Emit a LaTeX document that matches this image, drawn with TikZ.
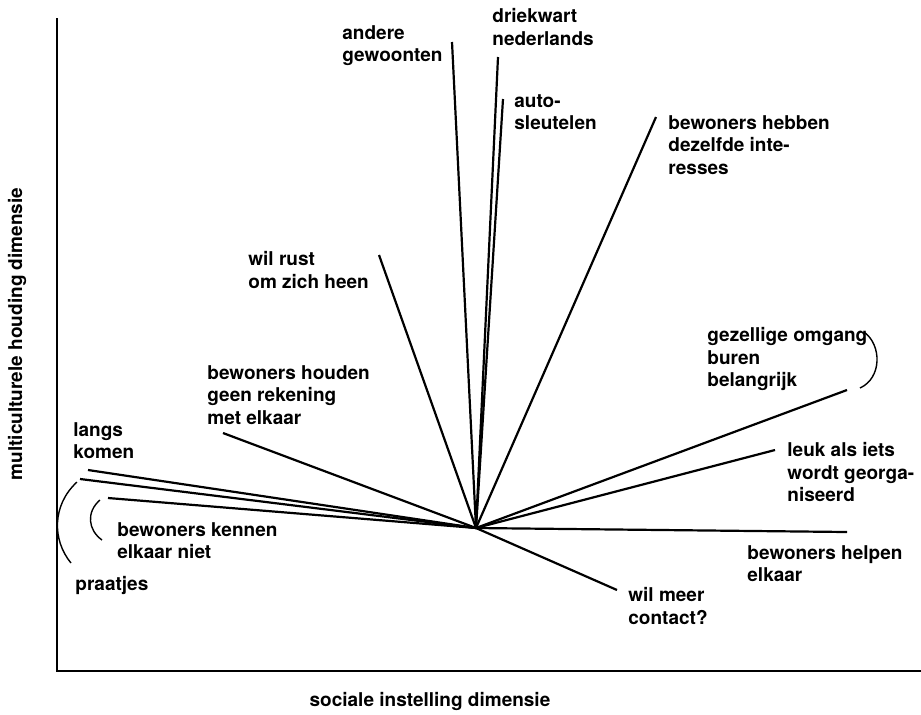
\documentclass[tikz,border=0pt]{standalone}
\usepackage{fontspec}
\setmainfont{TeX Gyre Heros}
\usetikzlibrary{positioning}
\newcommand{\lblfont}{\fontsize{9.5}{11.3}\selectfont\bfseries}

\begin{document}
\begin{tikzpicture}[x=0.5pt, y=-0.5pt,
	axis/.style={line width=1.3pt},
	ray/.style={line width=1.1pt},
	brace/.style={line width=0.7pt},
	lbl/.style={font=\lblfont, align=left, inner sep=0pt, anchor=north west}]
			%%%%% START %%%%%
			\useasboundingbox (0, 0) rectangle (921, 714);
			
			% assen
			\draw[axis] (57, 18) -- (57, 671) -- (921, 671);
			\node[font=\lblfont, inner sep=0pt] (xlabel) at (430, 701) {sociale instelling dimensie};
			\node[font=\lblfont, inner sep=0pt, rotate=90] (ylabel) at (17, 334) {multiculturele houding dimensie};
			
			% oorsprong en eindpunten
			\coordinate (c) at (476, 528);
			\coordinate (langs) at (88, 470);
			\coordinate (praat) at (80, 479);
			\coordinate (kennen) at (108, 498);
			\coordinate (houden) at (223, 433);
			\coordinate (rust) at (379, 255);
			\coordinate (andere) at (452, 42);
			\coordinate (driekwart) at (498, 57);
			\coordinate (auto) at (503, 99);
			\coordinate (hebben) at (656, 117);
			\coordinate (gezellig) at (847, 390);
			\coordinate (leuk) at (775, 450);
			\coordinate (helpen) at (847, 532);
			\coordinate (meer) at (617, 590);
			
			\foreach \e in {langs, praat, kennen, houden, rust, andere, driekwart, auto, hebben, gezellig, leuk, helpen, meer}
				\draw[ray] (c) -- (\e);
			
			% labels
			\node[lbl] (langslbl) at (73, 422) {langs\\komen};
			\node[lbl] (praatlbl) at (75, 576) {praatjes};
			\node[lbl] (kennenlbl) at (117, 522) {bewoners kennen\\elkaar niet};
			\node[lbl] (houdenlbl) at (207, 365) {bewoners houden\\geen rekening\\met elkaar};
			\node[lbl] (rustlbl) at (248, 251) {wil rust\\om zich heen};
			\node[lbl] (anderelbl) at (342, 25) {andere\\gewoonten};
			\node[lbl] (driekwartlbl) at (492, 8) {driekwart\\nederlands};
			\node[lbl] (autolbl) at (514, 94) {auto-\\sleutelen};
			\node[lbl] (hebbenlbl) at (668, 115) {bewoners hebben\\dezelfde inte-\\resses};
			\node[lbl] (gezelliglbl) at (707, 327) {gezellige omgang\\buren\\belangrijk};
			\node[lbl] (leuklbl) at (787, 442) {leuk als iets\\wordt georga-\\niseerd};
			\node[lbl] (helpenlbl) at (747, 545) {bewoners helpen\\elkaar};
			\node[lbl] (meerlbl) at (628, 587) {wil meer\\contact?};
			
			% haken
			\draw[brace] (77, 482) .. controls (52, 505) and (52, 540) .. (71, 563);
			\draw[brace] (100, 500) .. controls (86, 512) and (88, 530) .. (102, 540);
			\draw[brace] (864, 332) .. controls (882, 345) and (882, 378) .. (860, 388);
			%%%%% END %%%%%
\end{tikzpicture}
\end{document}
